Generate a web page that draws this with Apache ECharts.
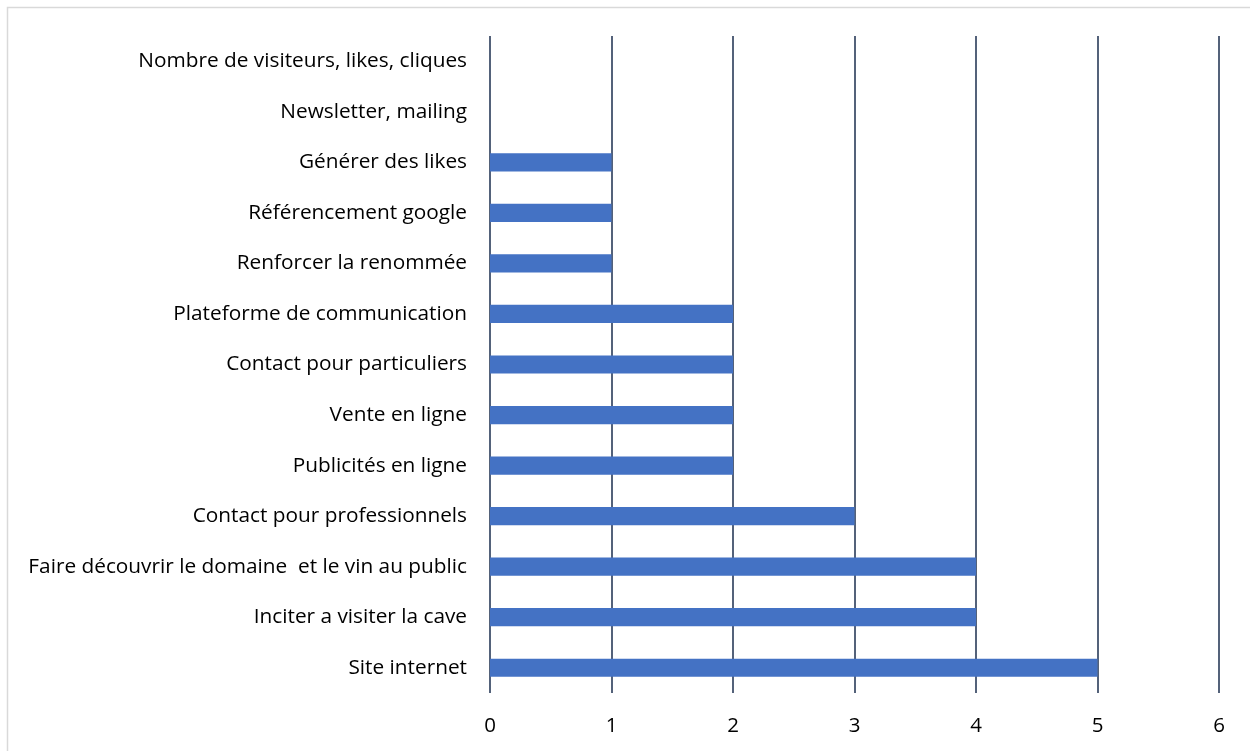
<!DOCTYPE html>
<html>
<head>
<meta charset="utf-8">
<script src="https://cdn.jsdelivr.net/npm/echarts@6/dist/echarts.min.js"></script>
<style>
  html, body { margin: 0; padding: 0; background: #ffffff; }
  #chart { width: 1250px; height: 751px; }
</style>
</head>
<body>
<div id="chart"></div>
<script>
// Categories listed bottom-to-top (first item sits next to the x axis)
const categories = [
  'Site internet',
  'Inciter a visiter la cave',
  'Faire découvrir le domaine  et le vin au public',
  'Contact pour professionnels',
  'Publicités en ligne',
  'Vente en ligne',
  'Contact pour particuliers',
  'Plateforme de communication',
  'Renforcer la renommée',
  'Référencement google',
  'Générer des likes',
  'Newsletter, mailing',
  'Nombre de visiteurs, likes, cliques'
];
const counts = [5, 4, 4, 3, 2, 2, 2, 2, 1, 1, 1, 0, 0];
const xTicks = [0, 1, 2, 3, 4, 5, 6];

const chart = echarts.init(document.getElementById('chart'), null, { renderer: 'canvas' });

const font = '"Open Sans", sans-serif';

chart.setOption({
  animation: false,
  backgroundColor: '#ffffff',
  graphic: [{
    type: 'rect',
    shape: { x: 7.5, y: 7.5, width: 1400, height: 900 },
    style: { fill: 'none', stroke: '#d9d9d9', lineWidth: 1.5 },
    silent: true
  }],
  grid: { left: 490, right: 31, top: 36, bottom: 58, containLabel: false },
  xAxis: {
    type: 'value',
    min: xTicks[0],
    max: xTicks[xTicks.length - 1],
    interval: 1,
    axisLine: { show: false },
    axisTick: { show: false },
    axisLabel: {
      color: '#000000',
      fontFamily: font,
      fontSize: 20.5,
      margin: 23,
      formatter: v => String(v)
    },
    splitLine: { show: true, lineStyle: { color: '#54627a', width: 2 } }
  },
  yAxis: {
    type: 'category',
    data: categories,
    axisLine: { show: false },
    axisTick: { show: false },
    axisLabel: {
      color: '#000000',
      fontFamily: font,
      fontSize: 20.8,
      margin: 23
    },
    splitLine: { show: false }
  },
  series: [{
    type: 'bar',
    data: counts,
    barWidth: '36%',
    itemStyle: { color: '#4472c4' },
    z: 3
  }]
});
</script>
</body>
</html>
